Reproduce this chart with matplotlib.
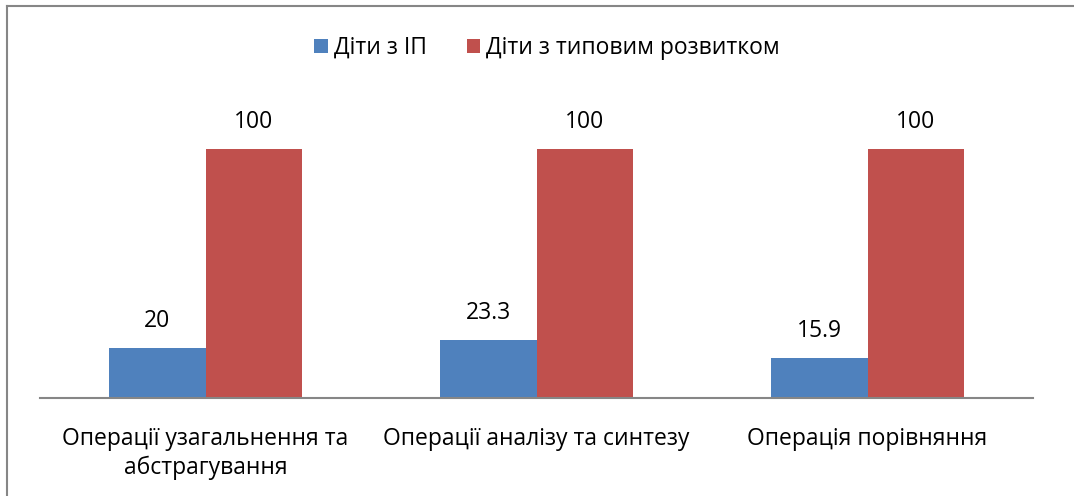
import matplotlib

matplotlib.use("Agg")

import matplotlib.pyplot as plt
import numpy as np
from matplotlib.lines import Line2D

plt.rcParams["font.family"] = ["Open Sans", "DejaVu Sans"]

categories = [
    "Операції узагальнення та\nабстрагування",
    "Операції аналізу та синтезу",
    "Операція порівняння",
]
series_names = ["Діти з ІП", "Діти з типовим розвитком"]
ip_values = [20, 23.3, 15.9]
typical_values = [100, 100, 100]

BLUE = "#4F81BD"
RED = "#C0504D"
GRAY = "#868686"
FONT_SIZE = 16.5

fig = plt.figure(figsize=(10.74, 4.96), dpi=100)
ax = fig.add_axes([40 / 1074, 98 / 496, 993 / 1074, 299 / 496])

x = np.arange(len(categories))
width = 0.2915
bars_ip = ax.bar(x - width / 2, ip_values, width, color=BLUE, label=series_names[0])
bars_typ = ax.bar(x + width / 2, typical_values, width, color=RED, label=series_names[1])

for container in (bars_ip, bars_typ):
    for rect, value in zip(container, container.datavalues):
        ax.annotate(
            f"{value:g}",
            (rect.get_x() + rect.get_width() / 2, rect.get_height()),
            xytext=(0, 27),
            textcoords="offset pixels",
            ha="center",
            va="center",
            fontsize=FONT_SIZE,
        )

ax.set_xlim(-0.5, len(categories) - 0.5)
ax.set_ylim(0, 120)
ax.set_yticks([])
ax.set_xticks(x)
ax.set_xticklabels(categories, fontsize=FONT_SIZE, linespacing=1.25)
ax.tick_params(axis="x", length=0, pad=21)
for side in ("top", "right", "left"):
    ax.spines[side].set_visible(False)
ax.spines["bottom"].set_color(GRAY)
ax.spines["bottom"].set_linewidth(1.5)

fig.legend(
    loc="center",
    bbox_to_anchor=(547 / 1074, 1 - 48 / 496),
    ncol=2,
    frameon=False,
    fontsize=FONT_SIZE,
    handlelength=0.6,
    handleheight=0.6,
    handletextpad=0.25,
    columnspacing=1.75,
)

# chart frame (only the top and left edges show in the reference)
fig.add_artist(Line2D([7 / 1074, 7 / 1074], [0, 1 - 6 / 496], color=GRAY, lw=1.5))
fig.add_artist(Line2D([7 / 1074, 1], [1 - 6 / 496, 1 - 6 / 496], color=GRAY, lw=1.5))

fig.savefig("out.png", dpi=100, facecolor="white")
